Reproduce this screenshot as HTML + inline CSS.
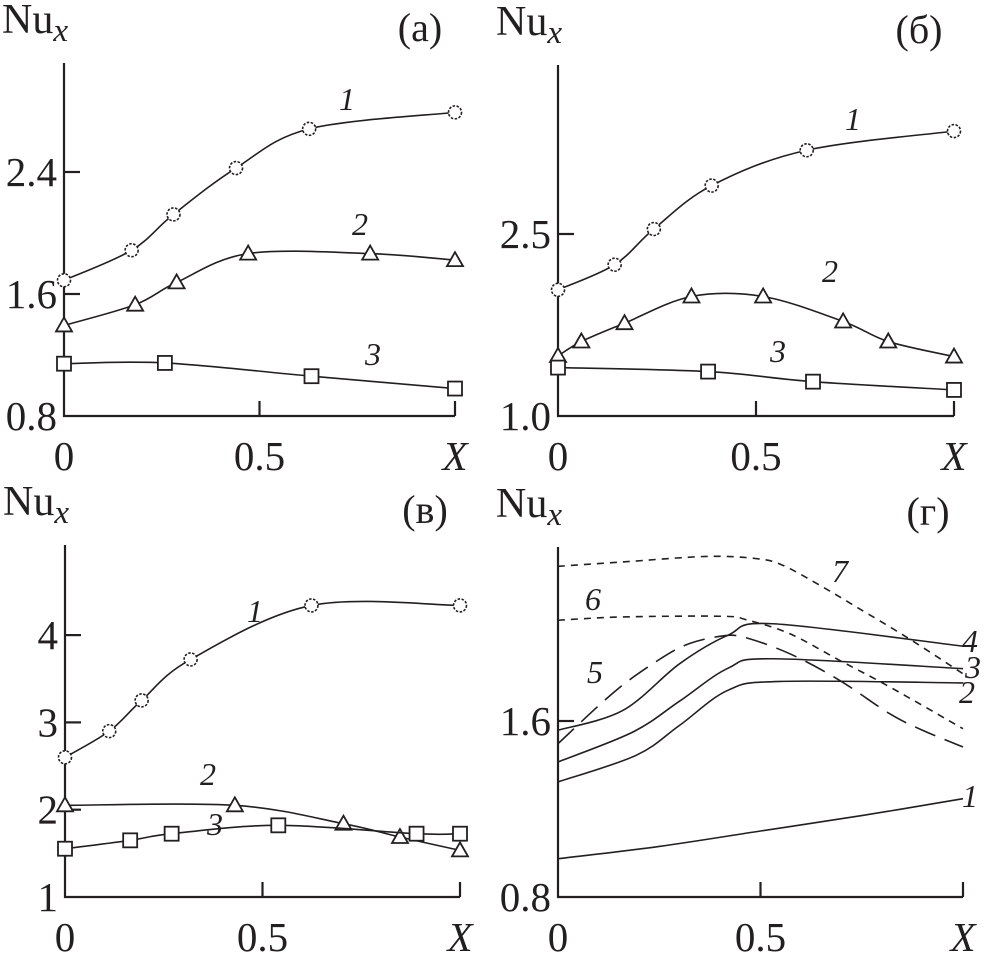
<!DOCTYPE html>
<html><head><meta charset="utf-8">
<style>
html,body{margin:0;padding:0;background:#fff;}
svg{display:block;}
text{font-family:"Liberation Serif","Times New Roman",serif;fill:#231f20;}
</style></head>
<body>
<svg id="fig" width="985" height="963" viewBox="0 0 985 963"></svg>
<script>
// ---- data (X, Nu_x) ----
const aX1=[0,0.173,0.28,0.44,0.627,1], aY1=[1.69,1.887,2.122,2.426,2.683,2.791];
const aX2=[0,0.182,0.288,0.471,0.783,1], aY2=[1.394,1.53,1.676,1.865,1.865,1.822];
const aX3=[0,0.258,0.633,1], aY3=[1.143,1.148,1.061,0.98];
const bX1=[0,0.143,0.242,0.388,0.628,1], bY1=[2.04,2.247,2.541,2.899,3.19,3.348];
const bX2=[0,0.059,0.168,0.337,0.518,0.72,0.834,1], bY2=[1.495,1.614,1.765,1.985,1.985,1.779,1.614,1.49];
const bX3=[0,0.379,0.644,1], bY3=[1.399,1.366,1.283,1.215];
const vX1=[0,0.112,0.194,0.318,0.624,1], vY1=[2.6,2.9,3.252,3.721,4.34,4.34];
const vX2=[0,0.43,0.705,0.848,1], vY2=[2.05,2.05,1.84,1.687,1.534];
const vX3=[0,0.165,0.27,0.54,0.89,1], vY3=[1.553,1.649,1.725,1.821,1.725,1.725];
const gX1=[0,0.25,0.5,0.75,1], gY1=[0.974,1.03,1.10,1.17,1.247];
const gX2=[0,0.193,0.30,0.42,0.55,1], gY2=[1.323,1.444,1.58,1.74,1.78,1.773];
const gX3=[0,0.185,0.30,0.42,0.53,1], gY3=[1.414,1.55,1.69,1.84,1.883,1.838];
const gX4=[0,0.16,0.30,0.42,0.53,1], gY4=[1.558,1.648,1.86,1.99,2.042,1.94];
const gX5=[0,0.144,0.26,0.325,0.4,0.457,0.572,0.695,0.819,0.9,1], gY5=[1.497,1.74,1.891,1.952,1.985,1.982,1.906,1.785,1.633,1.558,1.482];
const gX6=[0,0.16,0.407,0.465,0.572,0.695,0.819,1], gY6=[2.058,2.073,2.076,2.06,1.997,1.876,1.755,1.565];
const gX7=[0,0.16,0.366,0.49,0.556,0.654,0.737,0.86,1], gY7=[2.303,2.323,2.348,2.338,2.307,2.209,2.118,1.982,1.815];
const aTicks=[0.8,1.6,2.4], aTickLbl=["0.8","1.6","2.4"];
const bTicks=[1.0,2.5], bTickLbl=["1.0","2.5"];
const vTicks=[1,2,3,4], vTickLbl=["1","2","3","4"];
const gTicks=[0.8,1.6], gTickLbl=["0.8","1.6"];

const NS="http://www.w3.org/2000/svg";
const svg=document.getElementById('fig');
function mk(tag,attrs,parent){const e=document.createElementNS(NS,tag);for(const k in attrs)e.setAttribute(k,attrs[k]);(parent||svg).appendChild(e);return e;}
function txt(s,x,y,size,anchor,italic,parent){const t=mk('text',{x:x,y:y,'font-size':size,'text-anchor':anchor||'middle','font-family':'Liberation Serif, serif'},parent);if(italic)t.setAttribute('font-style','italic');t.textContent=s;return t;}
function spline(pts){let d='M'+pts[0][0]+','+pts[0][1];for(let i=0;i<pts.length-1;i++){const p0=pts[Math.max(0,i-1)],p1=pts[i],p2=pts[i+1],p3=pts[Math.min(pts.length-1,i+2)];const c1=[p1[0]+(p2[0]-p0[0])/6,p1[1]+(p2[1]-p0[1])/6],c2=[p2[0]-(p3[0]-p1[0])/6,p2[1]-(p3[1]-p1[1])/6];d+=' C'+c1[0]+','+c1[1]+' '+c2[0]+','+c2[1]+' '+p2[0]+','+p2[1];}return d;}

function panel(name,L,R,T,B,ymin,ymax,ticks,tlbl,letter,tag){
  const g=mk('g',{});
  
  
  const sx=v=>L+v*(R-L), sy=v=>B-(v-ymin)/(ymax-ymin)*(B-T);
  const ax=mk('path',{d:`M${L},${T} L${L},${B} L${R},${B}`,stroke:'#231f20','stroke-width':2.2,fill:'none'},g);
  
  
  mk('path',{d:`M${sx(0.5)},${B} v-15 M${R},${B} v-15`,stroke:'#231f20','stroke-width':2.2},g);
  ticks.forEach((t,i)=>{
    if(Math.abs(t-ymin)>1e-9) mk('line',{x1:L,x2:L+16,y1:sy(t),y2:sy(t),stroke:'#231f20','stroke-width':2.2},g);
    const lb=txt(tlbl[i],L-7,sy(t)+14,41,'end',false,g);
    
    
  });
  [['0',0],['0.5',0.5]].forEach(([s,v])=>{const lb=txt(s,sx(v),B+54,41,'middle',false,g);});
  const xl=txt('X',R,B+54,41,'middle',true,g);
  
  
  const yl=mk('text',{x:L-62,y:T-30,'font-size':42,'font-family':'Liberation Serif, serif'},g);
  
  
  yl.innerHTML='Nu<tspan font-style="italic" font-size="33" dy="8">x</tspan>';
  const pl=txt(letter,R-35,T-22,40,'middle',false,g);
  
  
  return {g,sx,sy};
}
function series(P,xs,ys,marker,name,dash,lbl,lx,ly){
  const pts=xs.map((x,i)=>[P.sx(x),P.sy(ys[i])]);
  const p=mk('path',{d:spline(pts),fill:'none',stroke:'#231f20','stroke-width':1.6},P.g);
  if(dash)p.setAttribute('stroke-dasharray',dash);
  
  
  pts.forEach(q=>{
    let m;
    if(marker==='o'){m=mk('circle',{cx:q[0],cy:q[1],r:6.5,fill:'#fff',stroke:'#231f20','stroke-width':1.6,'stroke-dasharray':'2.5,1.5'},P.g);}
    else if(marker==='t'){m=mk('path',{d:`M${q[0]},${q[1]-8} L${q[0]+8},${q[1]+6} L${q[0]-8},${q[1]+6} Z`,fill:'#fff',stroke:'#231f20','stroke-width':1.8},P.g);}
    else if(marker==='s'){m=mk('rect',{x:q[0]-7,y:q[1]-7,width:14,height:14,fill:'#fff',stroke:'#231f20','stroke-width':1.8},P.g);}
    if(m){}
  });
  const t=txt(lbl,lx,ly,32,'middle',true,P.g);
  
  
}
const A=panel('panel-a',64,455,63,416,0.8,0.8+353/122*0.8,aTicks,aTickLbl,'(a)','a');
series(A,aX1,aY1,'o','a-curve-1',null,'1',347,110);
series(A,aX2,aY2,'t','a-curve-2',null,'2',360,235);
series(A,aX3,aY3,'s','a-curve-3',null,'3',373,365);
const Bp=panel('panel-b',558,954,65,416,1.0,1.0+351/182*1.5,bTicks,bTickLbl,'(б)','b');
series(Bp,bX1,bY1,'o','b-curve-1',null,'1',853,130);
series(Bp,bX2,bY2,'t','b-curve-2',null,'2',830,282);
series(Bp,bX3,bY3,'s','b-curve-3',null,'3',778,362);
const V=panel('panel-v',65,460,545,897,1,1+352/87.3,vTicks,vTickLbl,'(в)','v');
series(V,vX1,vY1,'o','v-curve-1',null,'1',255,622);
series(V,vX2,vY2,'t','v-curve-2',null,'2',208,785);
series(V,vX3,vY3,'s','v-curve-3',null,'3',215,835);
const G=panel('panel-g',558,963,547,897,0.8,0.8+350/220,gTicks,gTickLbl,'(г)','g');
series(G,gX1,gY1,null,'g-curve-1',null,'1',970,807);
series(G,gX2,gY2,null,'g-curve-2',null,'2',967,703);
series(G,gX3,gY3,null,'g-curve-3',null,'3',973,678);
series(G,gX4,gY4,null,'g-curve-4',null,'4',970,652);
series(G,gX5,gY5,null,'g-curve-5','22,10','5',595,683);
series(G,gX6,gY6,null,'g-curve-6','7,6','6',593,610);
series(G,gX7,gY7,null,'g-curve-7','7,6','7',840,582);
</script>
</body></html>
